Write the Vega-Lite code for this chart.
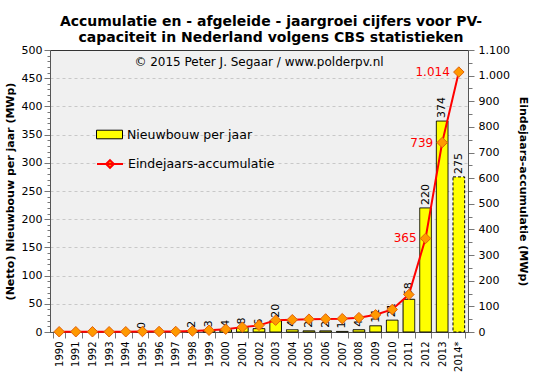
{
  "$schema": "https://vega.github.io/schema/vega-lite/v6.json",
  "width": 418,
  "height": 282,
  "autosize": {"type": "none"},
  "padding": {"left": 50, "top": 50, "right": 65, "bottom": 46},
  "title": {
    "text": ["Accumulatie en - afgeleide - jaargroei cijfers voor PV-", "capaciteit in Nederland volgens CBS statistieken"],
    "font": "DejaVu Sans", "fontSize": 14, "fontWeight": "bold", "color": "#000",
    "anchor": "middle", "lineHeight": 16, "offset": -1, "dx": 12
  },
  "config": {
    "font": "DejaVu Sans",
    "view": {"fill": "#F0F0F0", "stroke": "#333"},
    "axis": {
      "labelFont": "DejaVu Sans", "labelFontSize": 11, "labelColor": "#000",
      "titleFont": "DejaVu Sans", "titleFontSize": 11, "titleFontWeight": "bold", "titleColor": "#000",
      "tickColor": "#777", "domainColor": "#555", "gridColor": "#C8C8C8", "gridDash": [3, 3], "labelOverlap": false
    }
  },
  "data": {
    "values": [
      {"year": "1990", "nb": null, "acc": 1},
      {"year": "1991", "nb": null, "acc": 1},
      {"year": "1992", "nb": null, "acc": 1},
      {"year": "1993", "nb": null, "acc": 1},
      {"year": "1994", "nb": null, "acc": 1},
      {"year": "1995", "nb": 0, "acc": 2},
      {"year": "1996", "nb": null, "acc": 2},
      {"year": "1997", "nb": null, "acc": 2},
      {"year": "1998", "nb": 2, "acc": 4},
      {"year": "1999", "nb": 3, "acc": 7},
      {"year": "2000", "nb": 4, "acc": 11},
      {"year": "2001", "nb": 8, "acc": 19},
      {"year": "2002", "nb": 6, "acc": 26},
      {"year": "2003", "nb": 20, "acc": 46},
      {"year": "2004", "nb": 4, "acc": 48},
      {"year": "2005", "nb": 2, "acc": 50},
      {"year": "2006", "nb": 2, "acc": 51},
      {"year": "2007", "nb": 1, "acc": 52},
      {"year": "2008", "nb": 4, "acc": 56},
      {"year": "2009", "nb": 11, "acc": 67},
      {"year": "2010", "nb": 21, "acc": 88},
      {"year": "2011", "nb": 58, "acc": 146},
      {"year": "2012", "nb": 220, "acc": 365, "acc_lbl": "365"},
      {"year": "2013", "nb": 374, "acc": 739, "acc_lbl": "739"},
      {"year": "2014*", "nb": 275, "acc": 1014, "acc_lbl": "1.014"}
    ]
  },
  "layer": [
    {
      "layer": [
        {
          "mark": {"type": "bar", "stroke": "#000", "strokeWidth": 1},
          "encoding": {
            "x": {"field": "year", "type": "ordinal",
              "scale": {"domain": ["1990","1991","1992","1993","1994","1995","1996","1997","1998","1999","2000","2001","2002","2003","2004","2005","2006","2007","2008","2009","2010","2011","2012","2013","2014*"], "paddingInner": 0.3, "paddingOuter": 0.2},
              "axis": {"title": null, "labelAngle": 270, "labelFontSize": 10, "tickBand": "extent", "tickSize": 6, "labelPadding": 3, "domainColor": "#555"}},
            "y": {"field": "nb", "type": "quantitative",
              "scale": {"domain": [0, 500], "nice": false},
              "axis": {"values": [0,10,20,30,40,50,60,70,80,90,100,110,120,130,140,150,160,170,180,190,200,210,220,230,240,250,260,270,280,290,300,310,320,330,340,350,360,370,380,390,400,410,420,430,440,450,460,470,480,490,500],
                "labelExpr": "datum.value % 50 === 0 ? datum.label : ''",
                "tickSize": {"condition": {"test": "datum.value % 50 === 0", "value": 6}, "value": 3},
                "gridOpacity": {"condition": {"test": "datum.value % 50 === 0 && datum.value > 0 && datum.value < 500", "value": 1}, "value": 0},
                "grid": true,
                "title": "(Netto) Nieuwbouw per jaar (MWp)", "labelPadding": 2, "titlePadding": 6}},
            "color": {"datum": "Nieuwbouw per jaar", "scale": {"range": ["#FFFF00"]},
              "legend": {"title": null, "orient": "none", "legendX": 46, "legendY": 71,
                "symbolType": "M-1,-0.33H1V0.33H-1Z", "symbolSize": 676, "symbolStrokeColor": "#000",
                "symbolStrokeWidth": 1, "labelFontSize": 12.5, "labelFont": "DejaVu Sans", "labelColor": "#000", "labelOffset": 4}},
            "strokeDash": {"condition": {"test": "datum.year === '2014*'", "value": [3, 2]}, "value": [1, 0]}
          }
        },
        {
          "transform": [{"filter": "isValid(datum.nb)"}],
          "mark": {"type": "text", "angle": 270, "align": "left", "baseline": "middle", "dx": 3, "fontSize": 11, "color": "#000"},
          "encoding": {
            "x": {"field": "year", "type": "ordinal",
              "scale": {"domain": ["1990","1991","1992","1993","1994","1995","1996","1997","1998","1999","2000","2001","2002","2003","2004","2005","2006","2007","2008","2009","2010","2011","2012","2013","2014*"], "paddingInner": 0.3, "paddingOuter": 0.2},
              "axis": {"title": null, "labelAngle": 270, "labelFontSize": 10, "tickBand": "extent", "tickSize": 6, "labelPadding": 3, "domainColor": "#555"}},
            "y": {"field": "nb", "type": "quantitative",
              "scale": {"domain": [0, 500], "nice": false},
              "axis": {"values": [0,10,20,30,40,50,60,70,80,90,100,110,120,130,140,150,160,170,180,190,200,210,220,230,240,250,260,270,280,290,300,310,320,330,340,350,360,370,380,390,400,410,420,430,440,450,460,470,480,490,500],
                "labelExpr": "datum.value % 50 === 0 ? datum.label : ''",
                "tickSize": {"condition": {"test": "datum.value % 50 === 0", "value": 6}, "value": 3},
                "gridOpacity": {"condition": {"test": "datum.value % 50 === 0 && datum.value > 0 && datum.value < 500", "value": 1}, "value": 0},
                "grid": true,
                "title": "(Netto) Nieuwbouw per jaar (MWp)", "labelPadding": 2, "titlePadding": 6}},
            "text": {"field": "nb", "type": "quantitative"}
          }
        },
        {
          "data": {"values": [{"t": "© 2015 Peter J. Segaar / www.polderpv.nl"}]},
          "mark": {"type": "text", "fontSize": 12, "color": "#000", "align": "center", "baseline": "middle"},
          "encoding": {
            "x": {"datum": "2002", "type": "ordinal",
              "scale": {"domain": ["1990","1991","1992","1993","1994","1995","1996","1997","1998","1999","2000","2001","2002","2003","2004","2005","2006","2007","2008","2009","2010","2011","2012","2013","2014*"], "paddingInner": 0.3, "paddingOuter": 0.2},
              "axis": {"title": null, "labelAngle": 270, "labelFontSize": 10, "tickBand": "extent", "tickSize": 6, "labelPadding": 3, "domainColor": "#555"}},
            "y": {"datum": 478, "type": "quantitative",
              "scale": {"domain": [0, 500], "nice": false},
              "axis": {"values": [0,10,20,30,40,50,60,70,80,90,100,110,120,130,140,150,160,170,180,190,200,210,220,230,240,250,260,270,280,290,300,310,320,330,340,350,360,370,380,390,400,410,420,430,440,450,460,470,480,490,500],
                "labelExpr": "datum.value % 50 === 0 ? datum.label : ''",
                "tickSize": {"condition": {"test": "datum.value % 50 === 0", "value": 6}, "value": 3},
                "gridOpacity": {"condition": {"test": "datum.value % 50 === 0 && datum.value > 0 && datum.value < 500", "value": 1}, "value": 0},
                "grid": true,
                "title": "(Netto) Nieuwbouw per jaar (MWp)", "labelPadding": 2, "titlePadding": 6}},
            "text": {"field": "t", "type": "nominal"}
          }
        }
      ]
    },
    {
      "encoding": {
        "x": {"field": "year", "type": "ordinal",
          "scale": {"domain": ["1990","1991","1992","1993","1994","1995","1996","1997","1998","1999","2000","2001","2002","2003","2004","2005","2006","2007","2008","2009","2010","2011","2012","2013","2014*"], "paddingInner": 0.3, "paddingOuter": 0.2},
          "axis": {"title": null, "labelAngle": 270, "labelFontSize": 10, "tickBand": "extent", "tickSize": 6, "labelPadding": 3, "domainColor": "#555"}},
        "y": {"field": "acc", "type": "quantitative",
          "scale": {"domain": [0, 1100], "nice": false},
          "axis": {"orient": "right", "values": [0,50,100,150,200,250,300,350,400,450,500,550,600,650,700,750,800,850,900,950,1000,1050,1100],
            "grid": false,
            "labelExpr": "datum.value % 100 === 0 ? replace(format(datum.value, ','), ',', '.') : ''",
            "tickSize": {"condition": {"test": "datum.value % 100 === 0", "value": 6}, "value": 4},
            "title": "Eindejaars-accumulatie (MWp)", "labelPadding": 4, "titlePadding": 8}}
      },
      "layer": [
        {
          "mark": {"type": "line", "strokeWidth": 2, "color": "#FF0000"}
        },
        {
          "mark": {"type": "point", "shape": "diamond", "filled": true, "stroke": "#E0600A", "strokeWidth": 1, "size": 110, "opacity": 1},
          "encoding": {
            "fill": {"datum": "Eindejaars-accumulatie", "scale": {"range": ["#FF9900"]},
              "legend": {"title": null, "orient": "none", "legendX": 46, "legendY": 100,
                "symbolType": "M-1,0H1M0,-0.3L0.3,0L0,0.3L-0.3,0Z", "symbolSize": 676,
                "symbolStrokeWidth": 2, "symbolStrokeColor": "#FF0000",
                "labelFontSize": 12.5, "labelFont": "DejaVu Sans", "labelColor": "#000", "labelOffset": 4}}
          }
        },
        {
          "transform": [{"filter": "isValid(datum.acc_lbl)"}],
          "mark": {"type": "text", "align": "right", "baseline": "middle", "dx": -9, "fontSize": 12, "color": "#FF0000"},
          "encoding": {
            "text": {"field": "acc_lbl", "type": "nominal"}
          }
        }
      ]
    }
  ],
  "resolve": {"scale": {"y": "independent"}}
}
